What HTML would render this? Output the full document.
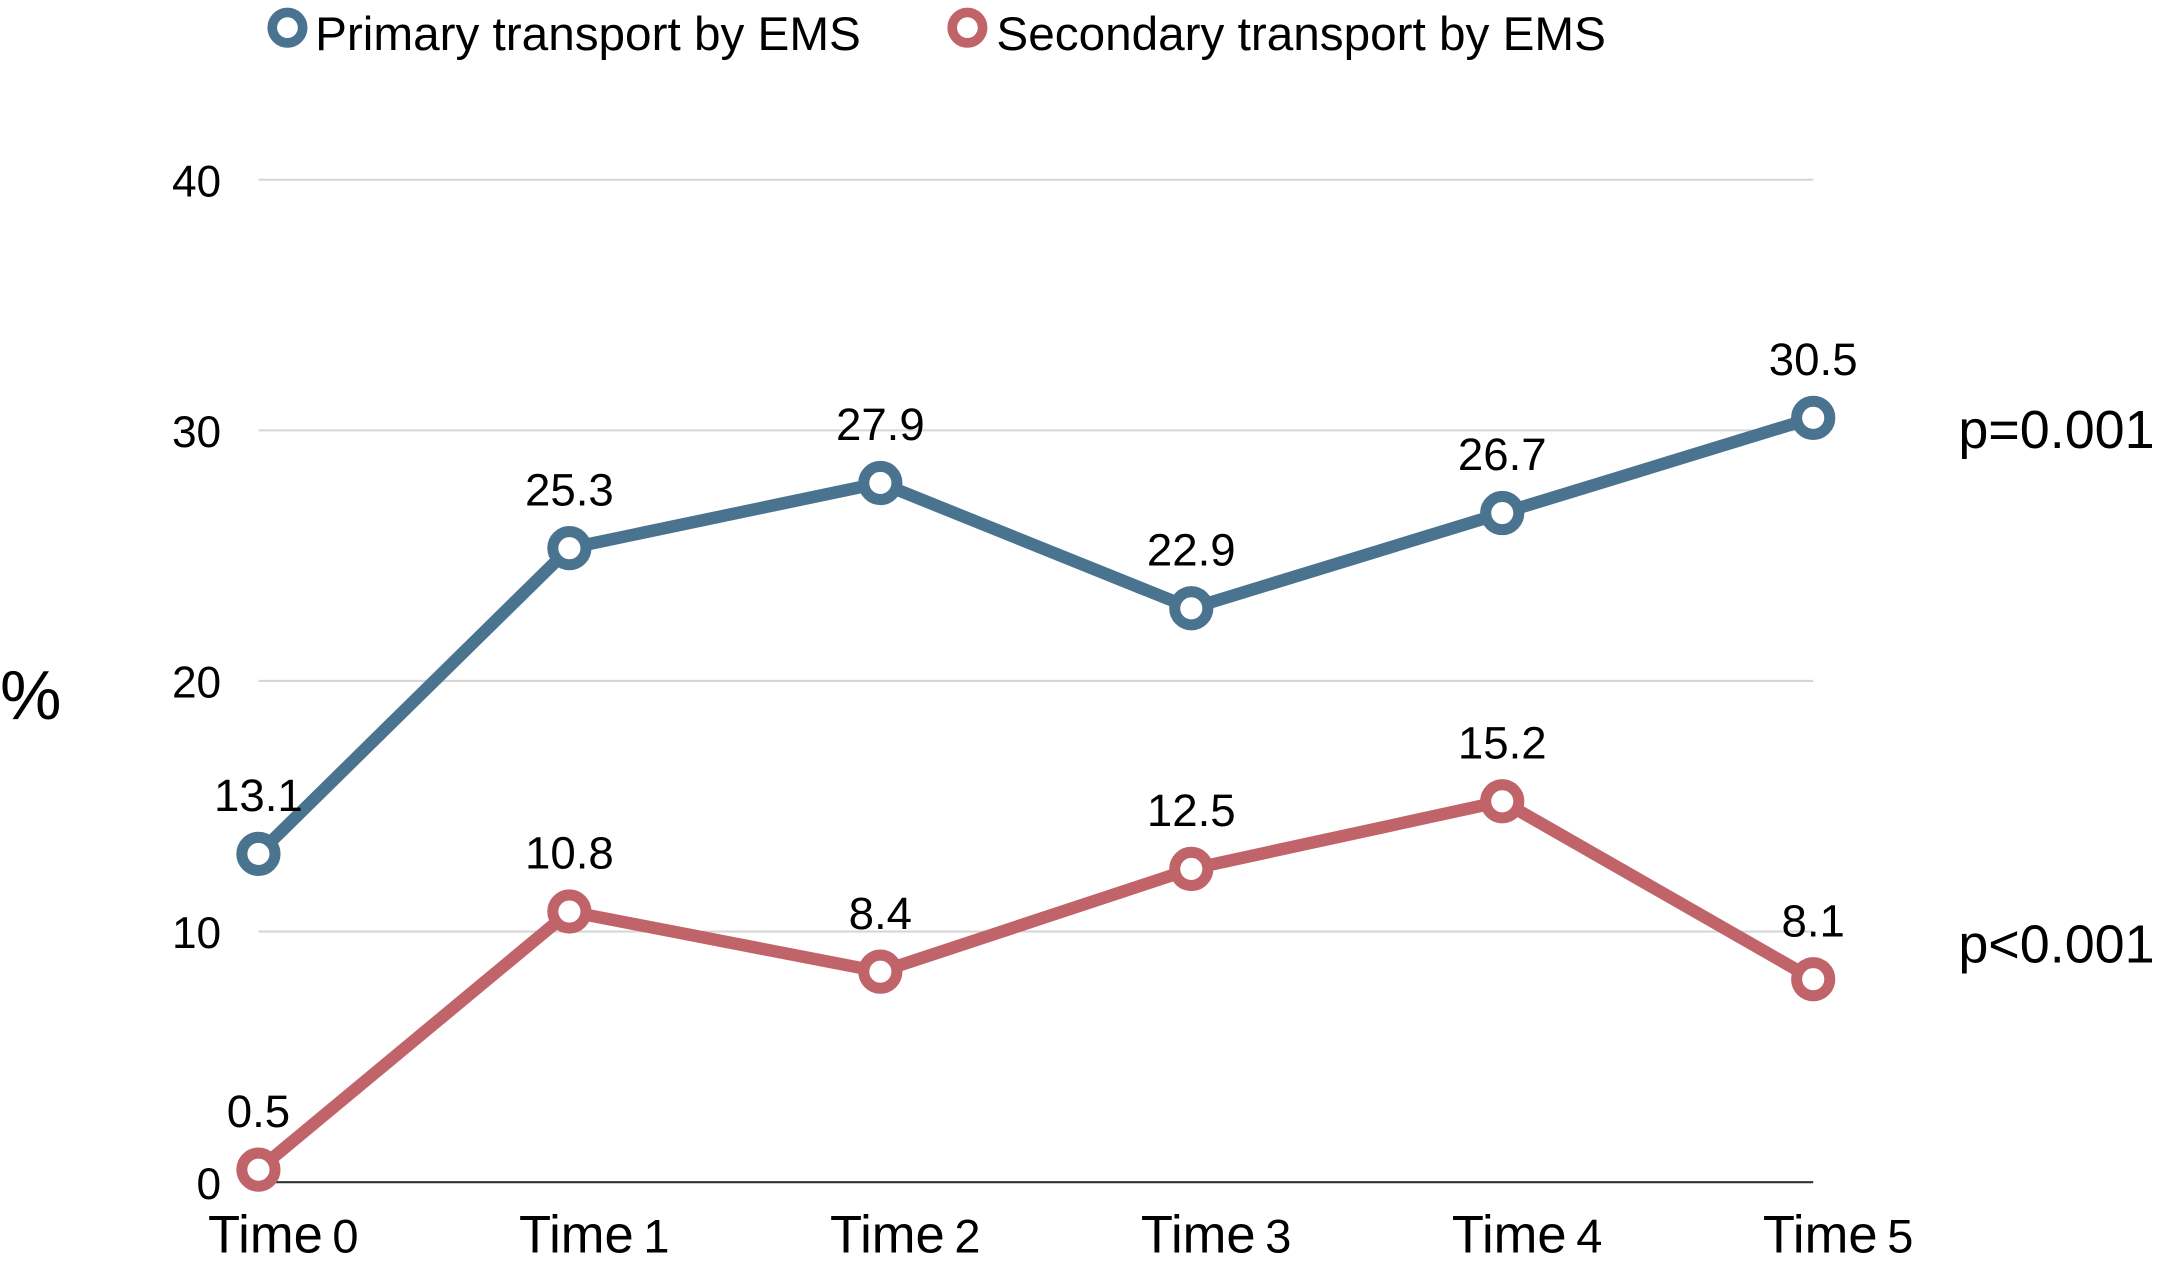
<!DOCTYPE html>
<html><head><meta charset="utf-8"><style>
html,body{margin:0;padding:0;background:#fff;}
svg{display:block;font-family:"Liberation Sans",sans-serif;}
</style></head><body>
<svg id="chart" width="2167" height="1261" viewBox="0 0 1568 912" preserveAspectRatio="none" xmlns="http://www.w3.org/2000/svg">
<g id="legend">
  <g>
    <circle cx="208" cy="20" r="11" fill="#fff" stroke="#4a7390" stroke-width="7"/>
    <text x="228" y="36" font-size="34.5" fill="#000">Primary transport by EMS</text>
  </g>
  <g>
    <circle cx="700" cy="20" r="11" fill="#fff" stroke="#c0646a" stroke-width="7"/>
    <text x="721" y="36" font-size="34.5" fill="#000">Secondary transport by EMS</text>
  </g>
</g>
<g id="grid"></g>
<g id="yticks"></g>
<g id="xticks"></g>
<text x="0" y="520" font-size="50" fill="#000">%</text>
<text x="1417" y="324" font-size="39" fill="#000">p=0.001</text>
<text x="1417" y="696" font-size="39" fill="#000">p&lt;0.001</text>
<g id="series"></g>
</svg>
<script>
const categories = ["0","1","2","3","4","5"];
const primaryValues = [13.1,25.3,27.9,22.9,26.7,30.5];
const secondaryValues = [0.5,10.8,8.4,12.5,15.2,8.1];
const yTicks = [0,10,20,30,40];
const NS="http://www.w3.org/2000/svg";
function x(i){return 187 + i*225;}
function y(v){return 855 - v*(855-130)/40;}
function mk(tag,attrs,parent){const e=document.createElementNS(NS,tag);for(const k in attrs)e.setAttribute(k,attrs[k]);parent.appendChild(e);return e;}
const grid=document.getElementById('grid'),yt=document.getElementById('yticks'),xt=document.getElementById('xticks'),ser=document.getElementById('series');
yTicks.forEach(t=>{
  const l=mk('line',{x1:187,x2:1312,y1:y(t),y2:y(t),stroke:t===0?'#333':'#d6d6d6','stroke-width':1.5},grid);
  
  
  const tx=mk('text',{x:160,y:y(t)+12,'font-size':32,'text-anchor':'end',fill:'#000'},yt);
  tx.textContent=t;
  
  
});
categories.forEach((c,i)=>{
  const tx=mk('text',{x:x(i)+18,y:906,'text-anchor':'middle',fill:'#000'},xt);
  
  
  const a=mk('tspan',{'font-size':38},tx);a.textContent='Time';
  const b=mk('tspan',{'font-size':34,dx:7},tx);b.textContent=c;
});
function drawSeries(vals,color,name){
  const g=mk('g',{},ser);
  
  
  const p=mk('polyline',{points:vals.map((v,i)=>x(i)+','+y(v)).join(' '),fill:'none',stroke:color,'stroke-width':9,'stroke-linejoin':'round'},g);
  
  
  vals.forEach((v,i)=>{
    const c=mk('circle',{cx:x(i),cy:y(v),r:12,fill:'#fff',stroke:color,'stroke-width':8},g);
    
    
    const t=mk('text',{x:x(i),y:y(v)-31,'font-size':33,'text-anchor':'middle',fill:'#000'},g);
    t.textContent=v.toFixed(1);
    
    
  });
}
drawSeries(primaryValues,'#4a7390','primary-series');
drawSeries(secondaryValues,'#c0646a','secondary-series');
</script>
</body></html>
